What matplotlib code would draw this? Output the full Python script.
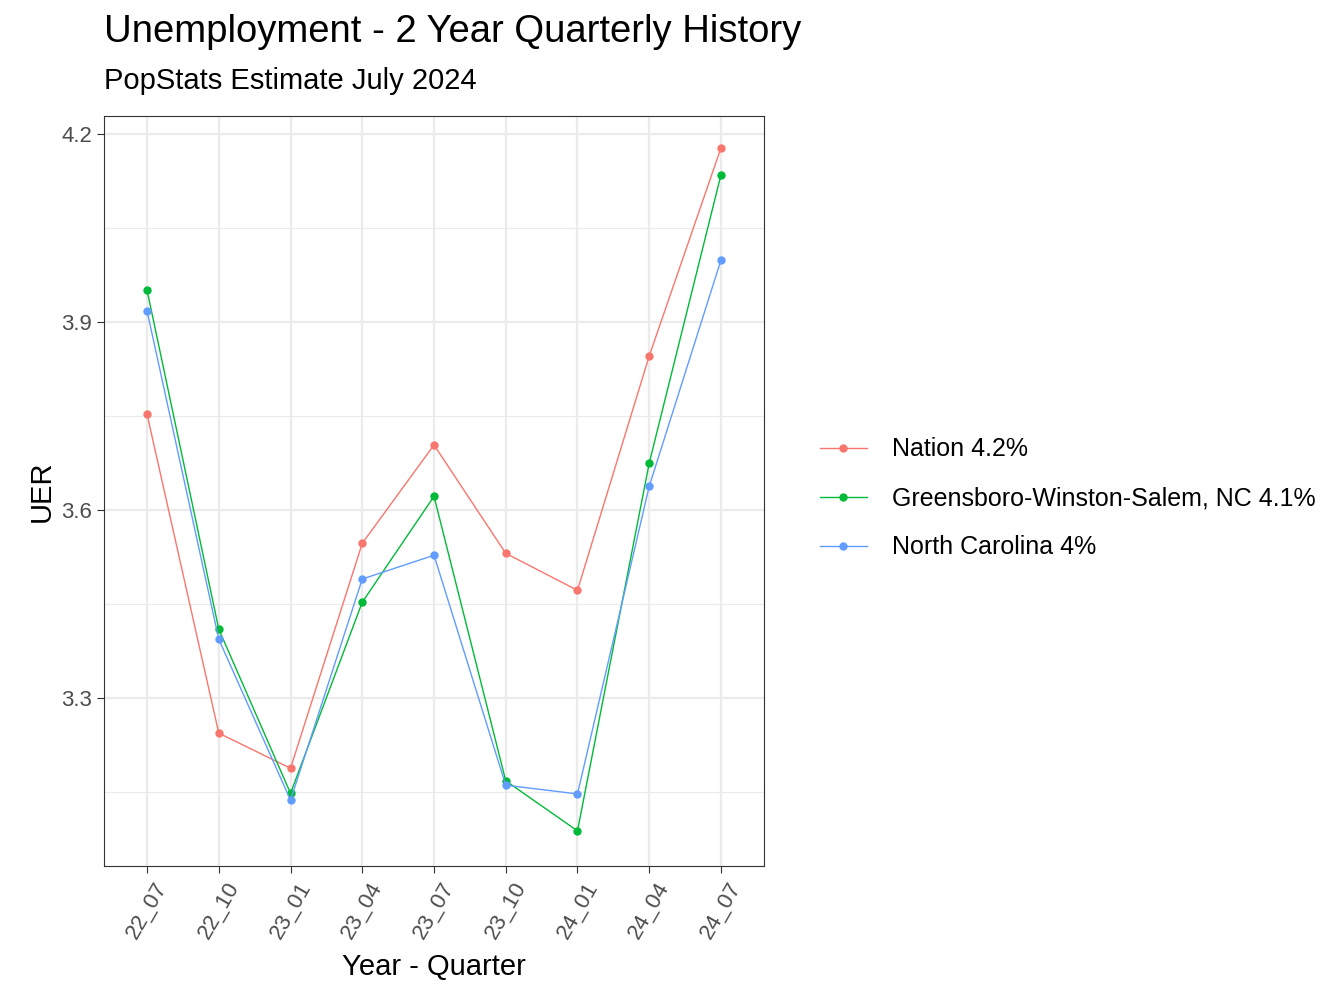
import matplotlib
matplotlib.use("Agg")
import matplotlib.pyplot as plt
import numpy as np

quarters = ["22_07", "22_10", "23_01", "23_04", "23_07", "23_10", "24_01", "24_04", "24_07"]
nation = [3.753, 3.244, 3.188, 3.547, 3.704, 3.531, 3.472, 3.846, 4.178]
gws = [3.951, 3.410, 3.148, 3.453, 3.622, 3.168, 3.088, 3.675, 4.135]
nc = [3.918, 3.394, 3.137, 3.490, 3.528, 3.161, 3.147, 3.638, 3.999]
series = [("Nation 4.2%", nation, "#F8766D"),
          ("Greensboro-Winston-Salem, NC 4.1%", gws, "#00BA38"),
          ("North Carolina 4%", nc, "#619CFF")]

plt.rcParams['font.family'] = 'Liberation Sans'
fig = plt.figure(figsize=(13.44, 10.08), dpi=100)
ax = fig.add_axes([104/1344, 1-866/1008, 660/1344, 750/1008])

x = np.arange(len(quarters))
for label, vals, col in series:
    ax.plot(x, vals, color=col, lw=1, marker='o', ms=5, label=label)

ax.set_xlim(-0.6, len(quarters) - 0.4)
ax.set_ylim(3.032, 4.229)
ax.set_yticks([3.3, 3.6, 3.9, 4.2])
ax.set_yticks([3.15, 3.45, 3.75, 4.05], minor=True)
ax.set_xticks(x)
ax.set_xticklabels(quarters, rotation=60, ha='center', va='top', fontsize=16, color='#4D4D4D')
ax.tick_params(axis='y', labelsize=16, labelcolor='#4D4D4D')
ax.tick_params(which='both', color='#333333', length=5)
ax.tick_params(which='minor', length=0)
ax.grid(which='major', color='#EBEBEB', lw=1.6)
ax.grid(which='minor', color='#EBEBEB', lw=0.8)
ax.set_axisbelow(True)
for s in ax.spines.values():
    s.set_color('#333333')
ax.set_xlabel('Year - Quarter', fontsize=21, labelpad=8)
ax.set_ylabel('UER', fontsize=21)

fig.text(104/1344, 1-32/1008, 'Unemployment - 2 Year Quarterly History', fontsize=27.5, va='center')
fig.text(104/1344, 1-81/1008, 'PopStats Estimate July 2024', fontsize=21, va='center')

ax.legend(loc='center left', bbox_to_anchor=(1.05, 0.49), frameon=False, fontsize=18,
          handlelength=1.9, handletextpad=1.0, labelspacing=1.0)

fig.savefig('out.png', dpi=100)
